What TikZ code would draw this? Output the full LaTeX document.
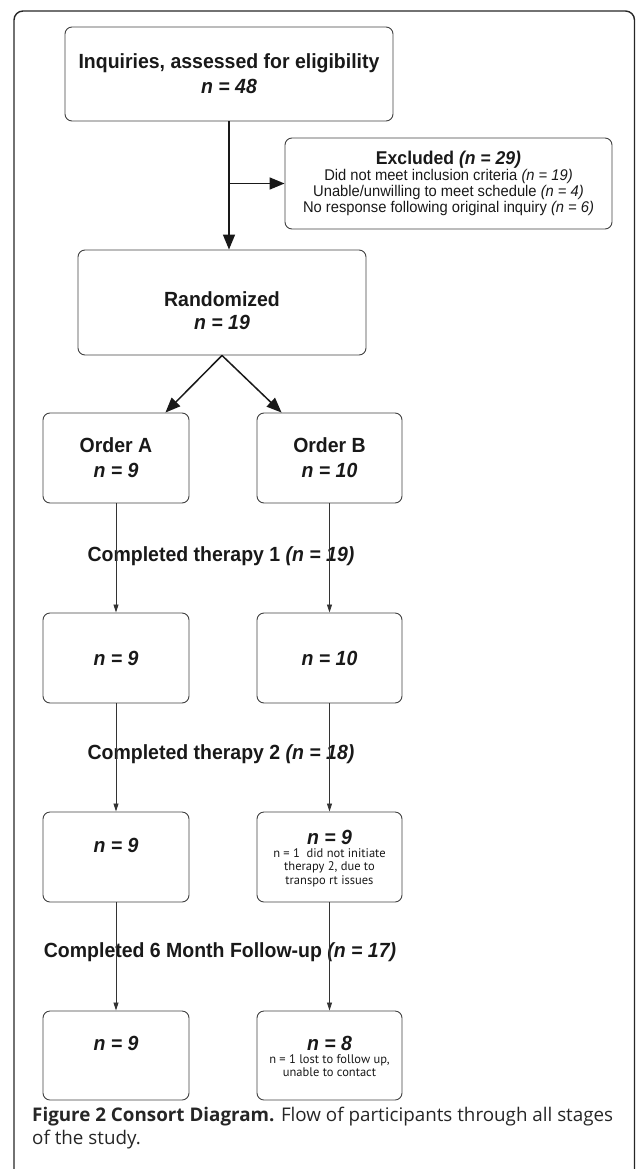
\documentclass[tikz,border=0pt]{standalone}
\usepackage{fontspec}
\setmainfont{Liberation Sans}
\newfontfamily\hv{Liberation Sans}[FakeStretch=0.95]
\newfontfamily\myr{PT Sans}
\newfontfamily\capf{Open Sans}
\usetikzlibrary{arrows.meta,calc}
\begin{document}
\begin{tikzpicture}[x=1pt,y=-1pt,
 box/.style={draw=black!75, line width=0.9pt, rounded corners=7pt, inner sep=0pt, align=center,
   font=\hv\bfseries\fontsize{20.5}{25}\selectfont, text=black!90},
 txt/.style={inner sep=0pt, align=center, font=\hv\bfseries\fontsize{20.5}{23}\selectfont, text=black!90},
 smalltxt/.style={inner sep=0pt, align=center, font=\myr\fontsize{12.5}{13.5}\selectfont, text=black!90},
 big/.style={line width=1.5pt, draw=black!90, -{Triangle[length=15pt,width=12pt]}},
 thin/.style={line width=0.8pt, draw=black!80, -{Triangle[length=8pt,width=5pt]}},
 lbl/.style={font=\hv\bfseries\fontsize{20.5}{24}\selectfont, text=black!90, inner sep=0pt}
]
\clip (0,0) rectangle (635,1169);
\draw[line width=1.4pt, draw=black!85, rounded corners=9pt] (14,11) rectangle (634.5,1190);

\node[box, minimum width=328pt, minimum height=94pt] (inq) at (229,74)
  {Inquiries, assessed for eligibility\\\itshape n = 48};
\node[box, minimum width=327pt, minimum height=91pt,
  font=\hv\fontsize{15.5}{15.8}\selectfont] (exc) at (448.5,183.5)
  {{\bfseries\fontsize{18.5}{20}\selectfont Excluded \itshape(n = 29)}\\
   Did not meet inclusion criteria \textit{(n = 19)}\\
   Unable/unwilling to meet schedule \textit{(n = 4)}\\
   No response following original inquiry \textit{(n = 6)}};
\node[box, minimum width=288pt, minimum height=105pt] (rand) at (222,302.5) {};
\node[txt] (trand) at (222,310.5) {Randomized\\[0pt]\itshape n = 19};

\node[box, minimum width=146pt, minimum height=90pt] (A1) at (116,458) {Order A\\\itshape n = 9};
\node[box, minimum width=145pt, minimum height=90pt] (B1) at (329.5,458) {Order B\\\itshape n = 10};
\node[box, minimum width=146pt, minimum height=90pt] (A2) at (116,658) {\itshape n = 9};
\node[box, minimum width=145pt, minimum height=90pt] (B2) at (329.5,658) {\itshape n = 10};
\node[box, minimum width=146pt, minimum height=90pt] (A3) at (116,857) {};
\node[box, minimum width=145pt, minimum height=90pt] (B3) at (329.5,857) {};
\node[box, minimum width=146pt, minimum height=89pt] (A4) at (116,1055.5) {};
\node[box, minimum width=145pt, minimum height=89pt] (B4) at (329.5,1055.5) {};

\node[txt, font=\hv\bfseries\itshape\fontsize{20.5}{23}\selectfont] (tA3) at (116,845) {n = 9};
\node[txt, font=\hv\bfseries\itshape\fontsize{20.5}{23}\selectfont] (tB3) at (329.5,837) {n = 9};
\node[smalltxt, anchor=north] (sB3) at (329.5,848) {n = 1\ \ did not initiate\\therapy 2, due to\\transpo rt issues};
\node[txt, font=\hv\bfseries\itshape\fontsize{20.5}{23}\selectfont] (tA4) at (116,1043) {n = 9};
\node[txt, font=\hv\bfseries\itshape\fontsize{20.5}{23}\selectfont] (tB4) at (329.5,1043) {n = 8};
\node[smalltxt, anchor=north] (sB4) at (329.5,1054) {n = 1 lost to follow up,\\unable to contact};

\node[lbl] (c1) at (221,556) {Completed therapy 1 \textit{(n = 19)}};
\node[lbl] (c2) at (221,754) {Completed therapy 2 \textit{(n = 18)}};
\node[lbl] (c3) at (220,952) {Completed 6 Month Follow-up \textit{(n = 17)}};

\node[anchor=west, inner sep=0pt, align=left, font=\capf\fontsize{18.8}{23}\selectfont, text=black!85] (cap) at (32,1128)
  {\textbf{Figure 2 Consort Diagram.} Flow of participants through all stages\\of the study.};

\coordinate (br) at (inq.south |- exc.west);
\draw[big] (inq.south) -- (inq.south |- rand.north);
\draw[big] (br) -- (exc.west);
\draw[big] (rand.south) -- ([xshift=-24pt]A1.north east);
\draw[big] (rand.south) -- ([xshift=25pt]B1.north west);

\draw[thin] (A1.south) -- (A2.north);
\draw[thin] (B1.south) -- (B2.north);
\draw[thin] (A2.south) -- (A3.north);
\draw[thin] (B2.south) -- (B3.north);
\draw[thin] (A3.south) -- (A4.north);
\draw[thin] (B3.south) -- (B4.north);
\end{tikzpicture}
\end{document}
